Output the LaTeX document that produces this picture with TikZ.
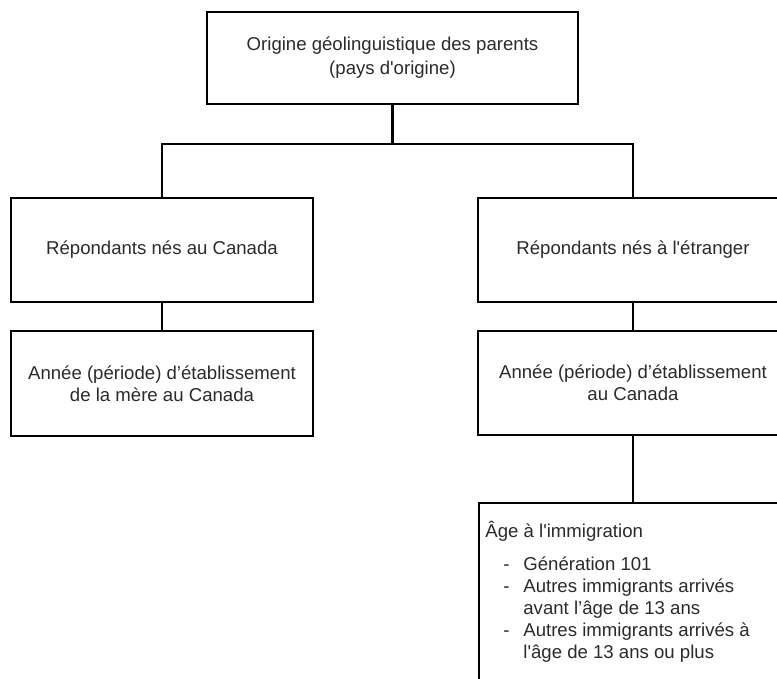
\documentclass[tikz,border=0pt]{standalone}
\usepackage{fontspec}
\setmainfont{Liberation Sans}
\usetikzlibrary{positioning}
\definecolor{TxtClr}{rgb}{0.17,0.17,0.17}
\newcommand{\q}{\textquotesingle}

\begin{document}
\begin{tikzpicture}[x=0.5pt,y=-0.5pt,
  box/.style={draw=black,line width=1.1pt,fill=white,text=TxtClr,align=center,
    font=\fontsize{9.3}{11}\selectfont,inner sep=0pt},
  link/.style={line width=1.1pt,color=black}]
\useasboundingbox (0,0) rectangle (777,679);
\clip (0,0) rectangle (777,679);

\node[box,minimum width=185.5pt,minimum height=46pt,font=\fontsize{9.3}{12}\selectfont] (orig) at (392.5,58)
  {Origine géolinguistique des parents\\(pays d\q origine)};
\node[box,minimum width=151pt,minimum height=52pt] (nesCan) at (162,250)
  {Répondants nés au Canada};
\node[box,minimum width=155pt,minimum height=52pt] (nesEtr) at (633,250)
  {Répondants nés à l\q étranger};
\node[box,minimum width=151pt,minimum height=52.5pt] (mere) at (162,383.5)
  {Année (période) d’établissement\\de la mère au Canada};
\node[box,minimum width=155pt,minimum height=52pt] (etab) at (633,383)
  {Année (période) d’établissement\\au Canada};
\node[box,anchor=north west,minimum width=155pt,minimum height=110pt] (age) at (478,502) {};

% texte de la derniere boite
\node[text=TxtClr,font=\fontsize{9.3}{11}\selectfont,anchor=base west,inner sep=0pt] (ageTtl) at (485,537)
  {Âge à l\q immigration};
\node[text=TxtClr,font=\fontsize{9.3}{11}\selectfont,anchor=base west,inner sep=0pt] (ageLst) at (503,570)
  {\begin{tabular}[t]{@{}l@{\hspace{6.9pt}}l@{}}
  - & Génération 101\\
  - & Autres immigrants arrivés\\
    & avant l’âge de 13 ans\\
  - & Autres immigrants arrivés à\\
    & l\q âge de 13 ans ou plus
  \end{tabular}};

\coordinate (fork) at (392.5,144);
\draw[link] (orig.south) -- (fork);
\draw[link] (nesCan.north) |- (fork) -| (nesEtr.north);
\draw[link] (nesCan.south) -- (mere.north);
\draw[link] (nesEtr.south) -- (etab.north);
\draw[link] (etab.south) -- (etab.south |- age.north);

\end{tikzpicture}
\end{document}
